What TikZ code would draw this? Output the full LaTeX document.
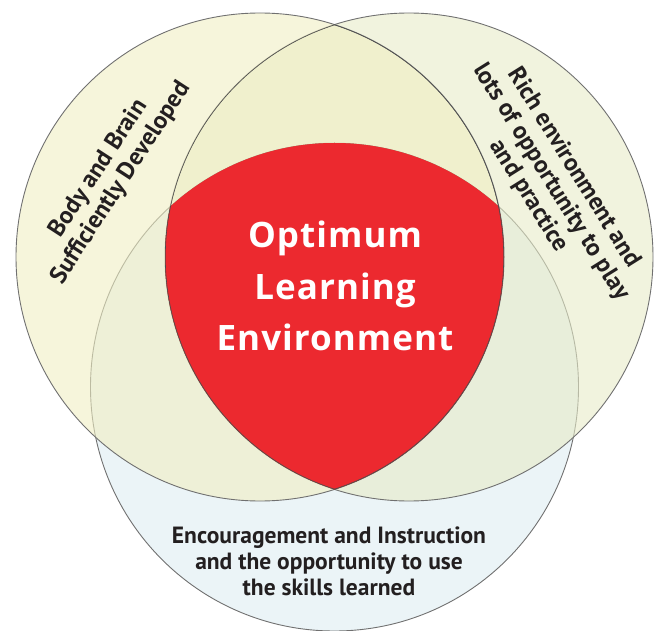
\documentclass[tikz,border=0pt]{standalone}
\usepackage{fontspec}
\setmainfont{Open Sans}
\newfontfamily\titlefont[LetterSpace=3]{Open Sans}
\newfontfamily\labelfont{PT Sans}
\definecolor{cL}{RGB}{240,238,195}
\definecolor{cR}{RGB}{231,235,200}
\definecolor{cB}{RGB}{235,244,247}
\definecolor{edge}{RGB}{112,112,112}
\definecolor{redc}{RGB}{236,41,47}
\definecolor{shadowc}{RGB}{110,40,30}
\definecolor{txt}{RGB}{35,31,32}
\tikzset{
  venn/.style={draw=edge, line width=0.9pt},
  lbl/.style={text=txt, align=center, font=\labelfont\bfseries\fontsize{23.5}{26}\selectfont},
  sidelbl/.style={lbl, font=\labelfont\bfseries\fontsize{24.5}{26.5}\selectfont},
  ttl/.style={text=white, align=center, font=\titlefont\bfseries\fontsize{35}{51.5}\selectfont},
}
\begin{document}
\begin{tikzpicture}[x=1pt,y=-1pt]
\useasboundingbox (0,0) rectangle (654,631);
\def\rr{244}
\coordinate (L) at (260,257);
\coordinate (R) at (409,257);
\coordinate (B) at (334.5,387);
% circles
\fill[cB] (B) circle (\rr);
\draw[venn] (B) circle (\rr);
\fill[cR, fill opacity=0.6] (R) circle (\rr);
\draw[venn] (R) circle (\rr);
\fill[cL, fill opacity=0.6] (L) circle (\rr);
\draw[venn] (L) circle (\rr);
% shadow of centre region
\foreach \i in {1,...,12}{
  \begin{scope}[shift={(\i*0.8,\i*1.1)}]
    \clip (L) circle (\rr);
    \clip (R) circle (\rr);
    \fill[shadowc, opacity=0.065] (B) circle (\rr);
  \end{scope}
}
% centre region
\begin{scope}
  \clip (L) circle (\rr);
  \clip (R) circle (\rr);
  \fill[redc] (B) circle (\rr);
  \draw[draw=black!70, line width=1.2pt] (L) circle (\rr);
  \draw[draw=black!70, line width=1.2pt] (R) circle (\rr);
\end{scope}
% texts
\node[ttl] (title) at (335,286) {Optimum\\Learning\\Environment};
\node[sidelbl] (body) at (110,176) [rotate=57] {Body and Brain\\Sufficiently Developed};
\node[sidelbl] (rich) at (551,182) [rotate=-58] {Rich environment and\\lots of opportunity to play\\and practice};
\node[lbl] (enc) at (329,561) {Encouragement and Instruction\\and the opportunity to use\\the skills learned};
\end{tikzpicture}
\end{document}
